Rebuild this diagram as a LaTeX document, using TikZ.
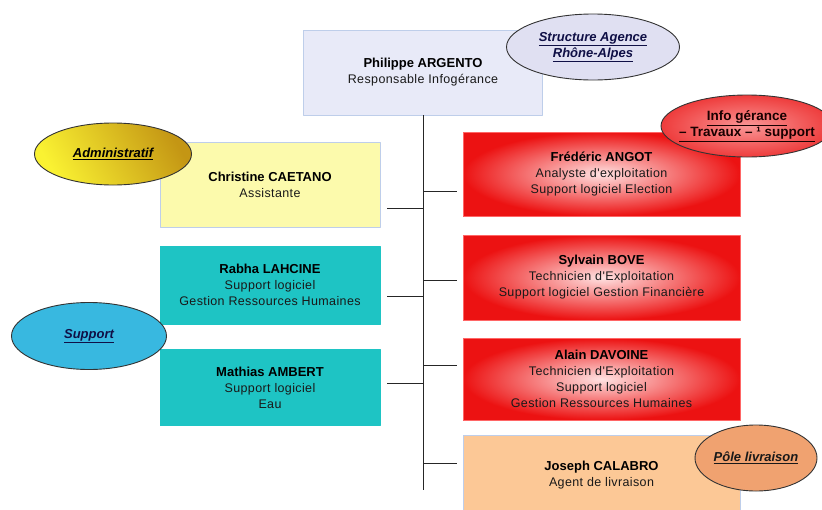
\documentclass[tikz,border=0pt]{standalone}
\usepackage{fontspec}
\setmainfont{Liberation Sans}
\newfontfamily\subfont[LetterSpace=3]{Liberation Sans}
\usetikzlibrary{calc,shapes.geometric}
\definecolor{lavbox}{RGB}{232,234,248}
\definecolor{edgeblue}{RGB}{190,206,234}
\definecolor{paleyel}{RGB}{252,250,172}
\definecolor{tealbox}{RGB}{30,196,196}
\definecolor{redbox}{RGB}{236,18,18}
\definecolor{pinkc}{RGB}{255,226,226}
\definecolor{peach}{RGB}{252,200,150}
\definecolor{lavell}{RGB}{224,224,242}
\definecolor{skyell}{RGB}{56,184,224}
\definecolor{salmon}{RGB}{240,162,112}
\definecolor{redell}{RGB}{238,60,60}
\definecolor{pinkell}{RGB}{250,150,150}
\definecolor{goldA}{RGB}{250,242,50}
\definecolor{goldB}{RGB}{196,150,20}
\definecolor{navy}{RGB}{16,16,70}
\newcommand\nm[1]{{\normalfont\fontsize{13}{16}\selectfont\bfseries\color{black}#1}}
\begin{document}
\begin{tikzpicture}[x=1pt,y=-1pt,line join=round,
	box/.style={draw=edgeblue,line width=.6pt,align=center,inner sep=2pt,text=black!90,font=\subfont\fontsize{12.5}{16}\selectfont},
	redb/.style={box,draw=red!60!white,inner color=pinkc,outer color=redbox},
	tag/.style={ellipse,draw=black!80,line width=.9pt,align=center,inner sep=0pt,text=navy,font=\fontsize{13}{16}\selectfont\bfseries\itshape},
	link/.style={line width=1pt,black!85}]
	\useasboundingbox (0,0) rectangle (822,509);
	\clip (0,0) rectangle (822,509);
	% boxes
	\node[box,fill=lavbox,minimum width=239pt,minimum height=85pt] (phil) at (423,72.5) {\nm{Philippe ARGENTO}\\Responsable Infogérance};
	\node[box,fill=paleyel,minimum width=220pt,minimum height=85pt] (chris) at (270,184.5) {\nm{Christine CAETANO}\\Assistante};
	\node[box,fill=tealbox,draw=tealbox,minimum width=220pt,minimum height=78pt] (rabha) at (270,285) {\nm{Rabha LAHCINE}\\Support logiciel\\Gestion Ressources Humaines};
	\node[box,fill=tealbox,draw=tealbox,minimum width=220pt,minimum height=76pt] (math) at (270,387.5) {\nm{Mathias AMBERT}\\Support logiciel\\Eau};
	\node[redb,minimum width=277pt,minimum height=84pt] (fred) at (601.5,174) {\nm{Frédéric ANGOT}\\Analyste d'exploitation\\Support logiciel Election};
	\node[redb,minimum width=277pt,minimum height=85pt] (sylv) at (601.5,277.5) {\nm{Sylvain BOVE}\\Technicien d'Exploitation\\Support logiciel Gestion Financière};
	\node[redb,minimum width=277pt,minimum height=82pt] (alain) at (601.5,379) {\nm{Alain DAVOINE}\\Technicien d'Exploitation\\Support logiciel\\Gestion Ressources Humaines};
	\node[box,fill=peach,minimum width=277pt,minimum height=80pt] (jos) at (601.5,475) {\nm{Joseph CALABRO}\\Agent de livraison};
	% links
	\coordinate (trunk) at (423,490);
	\draw[link] (phil.south) -- (trunk);
	\foreach \n/\dy in {fred/17,sylv/2.5,alain/-14,jos/-12}
		{\coordinate (c\n) at ($(\n.west)+(-6,\dy)$); \draw[link] (c\n) -- (c\n -| trunk);}
	\foreach \n/\dy in {chris/23.5,rabha/11,math/-4.5}
		{\coordinate (c\n) at ($(\n.east)+(7,\dy)$); \draw[link] (c\n) -- (c\n -| trunk);}
	% ellipses
	\node[tag,fill=lavell,minimum width=173pt,minimum height=66pt] (struct) at (593,47) {\underline{Structure Agence}\\\underline{Rhône-Alpes}};
	\node[tag,inner color=pinkell,outer color=redell,minimum width=172pt,minimum height=62pt,inner xsep=-18pt,font=\fontsize{13.5}{16}\selectfont\bfseries,text=black!90!red] (infog) at (747,126) {\underline{Info gérance}\\\underline{– Travaux – ¹ support}};
	\node[tag,left color=goldA,right color=goldB,shading angle=120,minimum width=157pt,minimum height=62pt,text=black] (admin) at (113,154) {\underline{Administratif}};
	\node[tag,fill=skyell,minimum width=155pt,minimum height=67pt] (supp) at (89,336) {\underline{Support}};
	\node[tag,fill=salmon,minimum width=122pt,minimum height=66pt,inner xsep=-6pt,text=black!90] (pole) at (756,458) {\underline{Pôle livraison}};
\end{tikzpicture}
\end{document}
